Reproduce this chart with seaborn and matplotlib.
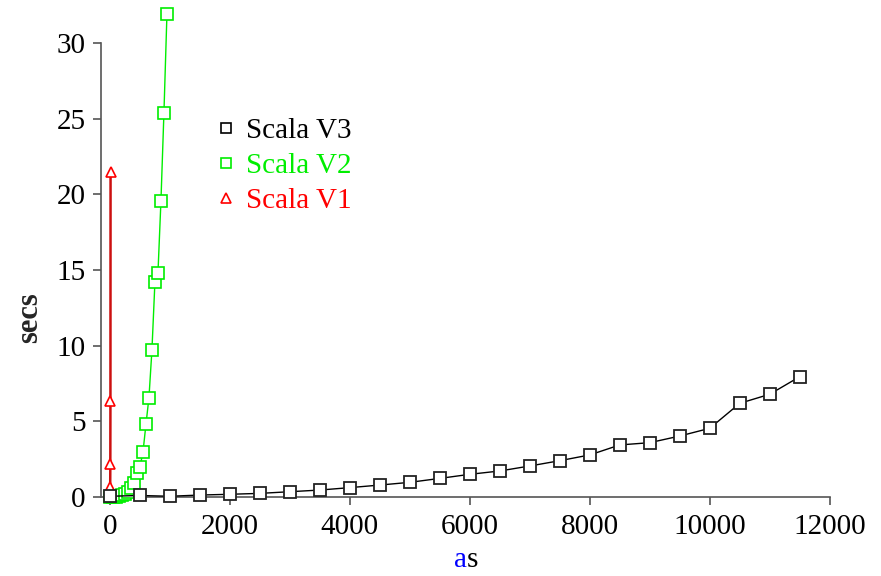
import matplotlib
matplotlib.use("Agg")
import matplotlib.pyplot as plt
import seaborn as sns
from matplotlib.lines import Line2D

# Scala V3 (black squares)
v3_as = [0, 500, 1000, 1500, 2000, 2500, 3000, 3500, 4000, 4500, 5000, 5500,
         6000, 6500, 7000, 7500, 8000, 8500, 9000, 9500, 10000, 10500, 11000, 11500]
v3_secs = [0.05, 0.1, 0.05, 0.13, 0.18, 0.24, 0.35, 0.46, 0.62, 0.79, 0.97, 1.23,
           1.5, 1.72, 2.05, 2.4, 2.78, 3.44, 3.59, 4.03, 4.54, 6.19, 6.79, 7.95]

# Scala V2 (green squares)
v2_as = [0, 50, 100, 150, 200, 250, 300, 350, 400, 450, 500, 550,
         600, 650, 700, 750, 800, 850, 900, 950]
v2_secs = [0.0, 0.0, 0.02, 0.05, 0.13, 0.22, 0.35, 0.57, 0.94, 1.56, 2.0, 2.95,
           4.8, 6.56, 9.72, 14.23, 14.78, 19.56, 25.4, 31.9]

# Scala V1 (red triangles)
v1_as = [2, 4, 6, 8, 10]
v1_secs = [0.1, 0.68, 2.16, 6.35, 21.5]

labels = ["Scala V3", "Scala V2", "Scala V1"]
colors = ["black", "#00ee00", "red"]

sns.set_style("ticks")
plt.rcParams["font.family"] = ["Liberation Serif", "DejaVu Serif"]

fig = plt.figure(figsize=(8.81, 5.76), dpi=100)
ax = fig.add_axes([0.1146, 0.124, 0.834, 0.875])

sns.lineplot(x=v1_as, y=v1_secs, ax=ax, color="#cc1010", lw=1.8, marker="^",
             markersize=7, markerfacecolor="white", markeredgecolor="red",
             markeredgewidth=1.2, estimator=None, zorder=3)
sns.lineplot(x=v2_as, y=v2_secs, ax=ax, color=colors[1], lw=1.0, marker="s",
             markersize=8, markerfacecolor="white", markeredgecolor=colors[1],
             markeredgewidth=1.2, estimator=None, zorder=4)
sns.lineplot(x=v3_as, y=v3_secs, ax=ax, color="black", lw=1.0, marker="s",
             markersize=9, markerfacecolor="white", markeredgecolor="#222222",
             markeredgewidth=1.3, estimator=None, zorder=5)

ax.set_xlim(-150, 12100)
ax.set_ylim(-0.5, 32.8)
ax.set_xticks(range(0, 12001, 2000))
ax.set_yticks(range(0, 31, 5))
for s in ["top", "right"]:
    ax.spines[s].set_visible(False)
ax.spines["bottom"].set_position(("data", 0))
ax.spines["bottom"].set_bounds(-130, 12000)
ax.spines["left"].set_bounds(0, 30)
for s in ["left", "bottom"]:
    ax.spines[s].set_color("#555555")
    ax.spines[s].set_linewidth(1.2)
ax.tick_params(axis="both", direction="out", length=6, width=1.2,
               color="#555555", labelsize=21, labelcolor="black")
ax.tick_params(axis="x", pad=6)
ax.tick_params(axis="y", pad=5)
ax.set_xlabel("")
ax.set_ylabel("")

fig.text(0.034, 0.448, "secs", rotation=90, ha="center", va="center",
         fontsize=22, fontweight="bold")
fig.text(0.530, 0.028, "a", color="blue", ha="right", va="center", fontsize=21)
fig.text(0.530, 0.028, "s", color="black", ha="left", va="center", fontsize=21)

handles = []
for lab, col, mk in zip(labels, colors, ["s", "s", "^"]):
    handles.append(Line2D([], [], linestyle="none", marker=mk, markersize=7,
                          markerfacecolor="white", markeredgecolor=col,
                          markeredgewidth=1.2, label=lab))
leg = ax.legend(handles=handles, loc="upper left", bbox_to_anchor=(0.114, 0.82),
                frameon=False, fontsize=21, handletextpad=0.2, labelspacing=0.3,
                handlelength=1.0)
for t, col in zip(leg.get_texts(), colors):
    t.set_color(col)

fig.savefig("out.png", dpi=100)
